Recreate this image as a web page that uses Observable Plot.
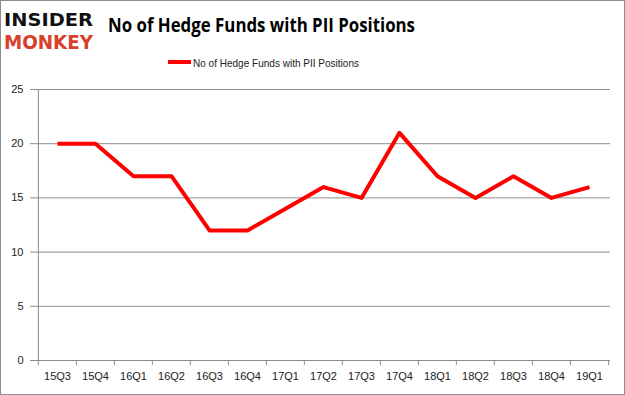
<!DOCTYPE html>
<html><head><meta charset="utf-8">
<script src="https://cdn.jsdelivr.net/npm/d3@7"></script>
<script src="https://cdn.jsdelivr.net/npm/@observablehq/plot@0.6"></script>
<style>
body{margin:0;background:#fff;}
#wrap{position:relative;width:625px;height:395px;box-sizing:border-box;border:1px solid #8c8c8c;overflow:hidden;background:#fff;font-family:"Liberation Sans",Arial,sans-serif;}
#chart{position:absolute;left:0;top:79px;}
#chart svg text{fill:#222;}
#head{position:absolute;left:0;top:0;}
</style>
</head><body>
<div id="wrap">
<svg id="head" width="623" height="79">
  <text x="3" y="25" textLength="89" lengthAdjust="spacingAndGlyphs" font-family="DejaVu Sans" font-weight="bold" font-size="18" fill="#111">INSIDER</text>
  <text x="3" y="48" textLength="89" lengthAdjust="spacingAndGlyphs" font-family="DejaVu Sans" font-weight="bold" font-size="19" fill="#d8402b">MONKEY</text>
  <text x="107" y="31" textLength="307" lengthAdjust="spacingAndGlyphs" font-family="Open Sans" font-weight="bold" font-size="20" fill="#000">No of Hedge Funds with PII Positions</text>
  <line x1="167" x2="190" y1="61" y2="61" stroke="#ff0000" stroke-width="4"/>
  <text x="192" y="65.5" textLength="166" lengthAdjust="spacingAndGlyphs" font-family="Liberation Sans" font-size="11.5" fill="#222">No of Hedge Funds with PII Positions</text>
</svg>
<div id="chart"></div>
</div>
<script>
const quarters = ["15Q3","15Q4","16Q1","16Q2","16Q3","16Q4","17Q1","17Q2","17Q3","17Q4","18Q1","18Q2","18Q3","18Q4","19Q1"];
const funds = [20,20,17,17,12,12,14,16,15,21,17,15,17,15,16];
const yTicks = [0,5,10,15,20,25];

const data = quarters.map((q,i)=>({q, v: funds[i]}));
const W = 623, ML = 35, MR = 14;
const bw = (W - ML - MR) / quarters.length;

const chart = Plot.plot({
  width: W, height: 314,
  marginLeft: ML, marginRight: MR, marginTop: 9, marginBottom: 34,
  style: {fontFamily: "Liberation Sans, Arial, sans-serif", fontSize: "11px", color: "#8c8c8c", background: "transparent", overflow: "visible"},
  x: {type: "band", domain: quarters, padding: 0, tickSize: 0, tickPadding: 12, label: null},
  y: {domain: [0, 25], ticks: yTicks, tickSize: 6, tickPadding: 7, label: null},
  marks: [
    Plot.ruleY(yTicks, {stroke: "#8c8c8c", strokeWidth: 1}),
    Plot.ruleX([quarters[0]], {x: d => d, dx: -bw/2, y1: 0, y2: 25, stroke: "#8c8c8c"}),
    Plot.ruleX(quarters, {x: d => d, dx: -bw/2, y1: 0, y2: 0, insetBottom: -5, stroke: "#8c8c8c"}),
    Plot.ruleX([quarters[quarters.length-1]], {x: d => d, dx: bw/2, y1: 0, y2: 0, insetBottom: -5, stroke: "#8c8c8c"}),
    Plot.line(data, {x: "q", y: "v", stroke: "#ff0000", strokeWidth: 4, strokeLinejoin: "round", strokeLinecap: "butt"})
  ]
});
document.getElementById("chart").appendChild(chart);
</script>
</body></html>
